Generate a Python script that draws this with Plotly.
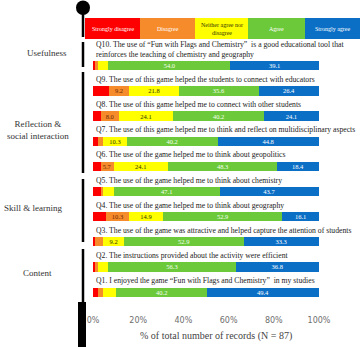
import plotly.graph_objects as go

W, H = 361, 347

questions = ["Q10", "Q9", "Q8", "Q7", "Q6", "Q5", "Q4", "Q3", "Q2", "Q1"]
question_texts = [
    "Q10. The use of “Fun with Flags and Chemistry”  is a good educational tool that<br>reinforces the teaching of chemistry and geography",
    "Q9. The use of this game helped the students to connect with educators",
    "Q8. The use of this game helped me to connect with other students",
    "Q7. The use of this game helped me to think and reflect on multidisciplinary aspects",
    "Q6. The use of the game helped me to think about geopolitics",
    "Q5. The use of the game helped me to think about chemistry",
    "Q4. The use of the game helped me to think about geography",
    "Q3. The use of the game was attractive and helped capture the attention of students",
    "Q2. The instructions provided about the activity were efficient",
    "Q1. I enjoyed the game “Fun with Flags and Chemistry”  in my studies",
]
levels = ["Strongly disagree", "Disagree", "Neither agree nor<br>disagree", "Agree", "Strongly agree"]

strongly_disagree = [1.1, 6.9, 3.4, 2.3, 3.4, 3.4, 5.7, 1.1, 1.1, 2.3]
disagree          = [1.1, 9.2, 8.0, 2.3, 5.7, 1.1, 10.3, 3.4, 1.1, 2.3]
neither           = [4.6, 21.8, 24.1, 10.3, 24.1, 4.6, 14.9, 9.2, 4.6, 5.7]
agree             = [54.0, 35.6, 40.2, 40.2, 48.3, 47.1, 52.9, 52.9, 56.3, 40.2]
strongly_agree    = [39.1, 26.4, 24.1, 44.8, 18.4, 43.7, 16.1, 33.3, 36.8, 49.4]

show_sd = [0, 0, 0, 0, 0, 0, 0, 0, 0, 0]
show_d  = [0, 1, 1, 0, 1, 0, 1, 0, 0, 0]
show_n  = [0, 1, 1, 1, 1, 0, 1, 1, 0, 0]
show_a  = [1, 1, 1, 1, 1, 1, 1, 1, 1, 1]
show_sa = [1, 1, 1, 1, 1, 1, 1, 1, 1, 1]

groups = ["Usefulness", "Reflection &<br>social interaction", "Skill & learning", "Content"]

tick_vals = [0, 20, 40, 60, 80, 100]
tick_text = ["0%", "20%", "40%", "60%", "80%", "100%"]
axis_title = "% of total number of records (N = 87)"

colors = ["#FF0000", "#F68B2C", "#FFFF00", "#6CC93A", "#0B6FC6"]
label_colors = ["#ffffff", "#6a2a00", "#333300", "#f4fff0", "#ffffff"]

series = [strongly_disagree, disagree, neither, agree, strongly_agree]
shows = [show_sd, show_d, show_n, show_a, show_sa]

SERIF = "Liberation Serif"

def px(x):
    return x / W

def py(y):
    return 1 - y / H

fig = go.Figure()
for name, vals, sh, col, lc in zip(levels, series, shows, colors, label_colors):
    fig.add_trace(go.Bar(
        y=questions, x=vals, orientation="h", name=name,
        marker=dict(color=col, line=dict(width=0)),
        text=[f"{v:.1f}" if s else "" for v, s in zip(vals, sh)],
        textposition="inside", insidetextanchor="middle", constraintext="none",
        textfont=dict(family=SERIF, size=6.5, color=lc),
        showlegend=False, hoverinfo="x+name",
    ))

# x mapping: 0% at 93px, 100% at 319px
span = 100 * W / 226.0
r0 = -93 / W * span
r1 = r0 + span

top_y, step = 53.15, 25.7
bot_y = top_y + step * len(questions)

fig.update_layout(
    barmode="stack", bargap=0.63,
    width=W, height=H, margin=dict(l=0, r=0, t=0, b=0),
    paper_bgcolor="white", plot_bgcolor="white",
    xaxis=dict(range=[r0, r1], domain=[0, 1], tickvals=tick_vals, ticktext=tick_text,
               showgrid=False, zeroline=False, showline=False, ticks="",
               anchor="free", position=py(314),
               tickfont=dict(family="DejaVu Sans", size=8, color="#6e6e6e")),
    yaxis=dict(categoryorder="array", categoryarray=questions, autorange="reversed",
               domain=[py(bot_y), py(top_y)], showticklabels=False, showgrid=False,
               zeroline=False, showline=False),
    font=dict(family=SERIF),
)

shapes = []
# circle and stick
shapes.append(dict(type="circle", xref="paper", yref="paper", x0=px(76), x1=px(90),
                   y0=py(15), y1=py(0.5), fillcolor="black", line=dict(width=0)))
for y0, y1 in [(12, 37), (42, 67), (72, 173), (179, 242), (249, 305)]:
    shapes.append(dict(type="line", xref="paper", yref="paper", x0=px(83), x1=px(83),
                       y0=py(y0), y1=py(y1), line=dict(color="black", width=2.5)))
shapes.append(dict(type="rect", xref="paper", yref="paper", x0=px(78), x1=px(86),
                   y0=py(302), y1=py(347), fillcolor="black", line=dict(width=0)))
# legend header
edges = [85, 140, 195, 248, 305, 360]
for i, col in enumerate(colors):
    shapes.append(dict(type="rect", xref="paper", yref="paper", x0=px(edges[i]), x1=px(edges[i + 1]),
                       y0=py(39), y1=py(18), fillcolor=col, line=dict(width=0), layer="below"))
fig.update_layout(shapes=shapes)

ann = []
for i, lv in enumerate(levels):
    ann.append(dict(xref="paper", yref="paper", x=px((edges[i] + edges[i + 1]) / 2), y=py(28.5),
                    text=lv, showarrow=False, xanchor="center", yanchor="middle",
                    font=dict(family=SERIF, size=6, color="#333300" if i == 2 else "white")))
for q, t in zip(questions, question_texts):
    ann.append(dict(xref="x", yref="y", x=0, y=q, text=t, showarrow=False, xanchor="left",
                    yanchor="bottom", yshift=5, xshift=1, align="left",
                    font=dict(family=SERIF, size=7.7, color="#222222")))
for g, (gx, gy) in zip(groups, [(47, 53), (38, 130), (33, 208), (37, 273)]):
    ann.append(dict(xref="paper", yref="paper", x=px(gx), y=py(gy), text=g, showarrow=False,
                    xanchor="center", yanchor="middle", align="center",
                    font=dict(family=SERIF, size=9, color="#333333")))
ann.append(dict(xref="paper", yref="paper", x=px(216), y=py(336), text=axis_title, showarrow=False,
                xanchor="center", yanchor="middle", font=dict(family=SERIF, size=10, color="#444444")))
fig.update_layout(annotations=ann)

fig.write_html("out.html")
